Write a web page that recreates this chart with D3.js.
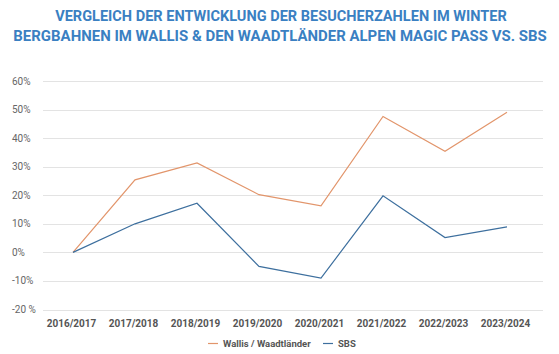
<!DOCTYPE html>
<html lang="de">
<head>
  <meta charset="UTF-8" />
  <title>Besucherzahlen Winter</title>
  <script src="https://cdn.jsdelivr.net/npm/d3@7"></script>
  <style>
    body { margin: 0; background: #fff; }
    svg { display: block; font-family: Roboto, "Liberation Sans", sans-serif; }
  </style>
</head>
<body>
  <svg id="chart" width="559" height="354"></svg>
  <script>
    // data
    var seasons = ["2016/2017", "2017/2018", "2018/2019", "2019/2020", "2020/2021", "2021/2022", "2022/2023", "2023/2024"];
    var wallis = [0, 25.4, 31.3, 20.2, 16.3, 47.6, 35.4, 49.1];
    var sbs = [0, 10, 17.2, -4.9, -9, 19.8, 5.2, 8.9];
    var yTicks = [60, 50, 40, 30, 20, 10, 0, -10, -20];
    var yTickLabels = ["60%", "50%", "40%", "30%", "20%", "10%", "0%", "-10%", "-20 %"];
    var seriesNames = ["Wallis / Waadtländer", "SBS"];
    var seriesColors = ["#e2956b", "#3d6f9e"];
    var titleLines = ["VERGLEICH DER ENTWICKLUNG DER BESUCHERZAHLEN IM WINTER",
      "BERGBAHNEN IM WALLIS & DEN WAADTLÄNDER ALPEN MAGIC PASS VS. SBS"];

    var svg = d3.select("#chart");

    var x = d3.scalePoint().domain(seasons).range([73, 507]);
    var y = d3.scaleLinear().domain([-20, 60]).range([309.5, 81]);

    // title (condensed look by horizontal squeeze)
    var titleW = [452, 534];
    var titleY = [21, 41];
    var titleX = [281, 280];
    titleLines.forEach(function(t, i) {
      var g = svg.append("g");
      var txt = g.append("text")
        .attr("x", 0).attr("y", 0)
        .attr("text-anchor", "middle")
        .attr("font-weight", "bold")
        .attr("font-size", "15.5px")
        .attr("fill", "#3a80c2")
        .text(t);
      var sx = titleW[i] / txt.node().getComputedTextLength();
      g.attr("transform", "translate(" + titleX[i] + "," + titleY[i] + ") scale(" + sx + ",1)");
    });

    // gridlines
    svg.append("g").selectAll("line")
      .data(yTicks)
      .enter()
      .append("line")
      .attr("x1", 43)
      .attr("x2", 543)
      .attr("y1", function(d) { return Math.round(y(d)) + 0.5; })
      .attr("y2", function(d) { return Math.round(y(d)) + 0.5; })
      .attr("stroke", "#e3e3e3")
      .attr("stroke-width", 1);

    // y labels
    svg.append("g").selectAll("text")
      .data(yTicks)
      .enter()
      .append("text")
      .attr("x", 12)
      .attr("y", function(d) { return y(d) + 3.5; })
      .attr("font-size", "10px")
      .attr("fill", "#666")
      .text(function(d, i) { return yTickLabels[i]; });

    // x labels
    svg.append("g").selectAll("text")
      .data(seasons)
      .enter()
      .append("text")
      .attr("x", function(d) { return x(d) - 1.5; })
      .attr("y", 327)
      .attr("text-anchor", "middle")
      .attr("font-size", "10px")
      .attr("font-weight", "bold")
      .attr("fill", "#555")
      .text(function(d) { return d; });

    // lines
    var line = d3.line()
      .x(function(d, i) { return x(seasons[i]); })
      .y(function(d) { return y(d); });

    [wallis, sbs].forEach(function(s, i) {
      svg.append("path")
        .datum(s)
        .attr("d", line)
        .attr("fill", "none")
        .attr("stroke", seriesColors[i])
        .attr("stroke-width", 1.2);
    });

    // legend
    var legX = [208, 323];
    var legend = svg.append("g");
    seriesNames.forEach(function(name, i) {
      legend.append("line")
        .attr("x1", legX[i]).attr("x2", legX[i] + 10)
        .attr("y1", 343.5).attr("y2", 343.5)
        .attr("stroke", seriesColors[i])
        .attr("stroke-width", 1.2);
      legend.append("text")
        .attr("x", legX[i] + 15)
        .attr("y", 347)
        .attr("font-size", "9.5px")
        .attr("font-weight", "bold")
        .attr("fill", "#555")
        .text(name);
    });
  </script>
</body>
</html>
